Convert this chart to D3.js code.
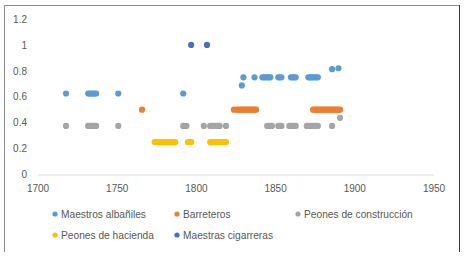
<!DOCTYPE html>
<html><head><meta charset="utf-8">
<script src="https://cdn.jsdelivr.net/npm/d3@7"></script>
<style>body{margin:0;background:#fff}svg{display:block}text{font-family:"Liberation Sans",Arial,sans-serif;fill:#595959}</style>
</head><body><svg id="c" width="466" height="260"></svg>
<script>
const seriesNames = ["Maestros albañiles","Barreteros","Peones de construcción","Peones de hacienda","Maestras cigarreras"];
const seriesColors = ["#5B9BD5","#ED7D31","#A5A5A5","#FFC000","#4472C4"];
const xTicks = [1700,1750,1800,1850,1900,1950];
const yTicks = [0,0.2,0.4,0.6,0.8,1,1.2];

const albanilesYears = [1718,1732,1733,1734,1735,1736,1737,1751,1792,1829,1830,1837,1842,1843,1844,1845,1846,1847,1852,1853,1854,1860,1861,1862,1863,1871,1872,1873,1874,1875,1876,1877,1886,1890];
const albanilesValues = [0.625,0.625,0.625,0.625,0.625,0.625,0.625,0.625,0.625,0.6875,0.75,0.75,0.75,0.75,0.75,0.75,0.75,0.75,0.75,0.75,0.75,0.75,0.75,0.75,0.75,0.75,0.75,0.75,0.75,0.75,0.75,0.75,0.8125,0.82];

const barreterosYears = [1766,1824,1826,1827,1828,1829,1830,1831,1832,1833,1834,1835,1836,1837,1838,1874,1875,1876,1877,1878,1879,1880,1881,1882,1883,1884,1885,1886,1887,1888,1889,1890,1891];
const barreterosValues = barreterosYears.map(() => 0.5);

const construccionYears = [1718,1732,1733,1734,1735,1736,1737,1751,1792,1794,1805,1809,1810,1811,1812,1813,1814,1815,1819,1845,1846,1847,1848,1852,1853,1854,1859,1860,1861,1862,1863,1870,1871,1872,1873,1874,1875,1876,1877,1886,1891];
const construccionValues = [0.375,0.375,0.375,0.375,0.375,0.375,0.375,0.375,0.375,0.375,0.375,0.375,0.375,0.375,0.375,0.375,0.375,0.375,0.375,0.375,0.375,0.375,0.375,0.375,0.375,0.375,0.375,0.375,0.375,0.375,0.375,0.375,0.375,0.375,0.375,0.375,0.375,0.375,0.375,0.375,0.4375];

const haciendaYears = [1774,1775,1776,1777,1778,1779,1780,1781,1782,1783,1784,1785,1786,1787,1795,1796,1797,1809,1810,1811,1812,1813,1814,1815,1816,1817,1818,1819];
const haciendaValues = haciendaYears.map(() => 0.25);

const cigarrerasYears = [1797,1807];
const cigarrerasValues = [1,1];

const seriesYears = [albanilesYears,barreterosYears,construccionYears,haciendaYears,cigarrerasYears];
const seriesValues = [albanilesValues,barreterosValues,construccionValues,haciendaValues,cigarrerasValues];

const svg = d3.select("#c");
svg.append("rect").attr("width",466).attr("height",260).attr("fill","#fff");
// chart border
svg.append("path").attr("d","M4.5,252 V5.5 H459.5").attr("fill","none").attr("stroke","#8c8c8c");
svg.append("line").attr("x1",459.5).attr("x2",459.5).attr("y1",5).attr("y2",252).attr("stroke","#3a3a3a");

const x = d3.scaleLinear().domain([1700,1950]).range([37.5,433.5]);
const y = d3.scaleLinear().domain([0,1.2]).range([174.5,19]);

// x axis
const xa = svg.append("g").attr("transform","translate(0,174.5)")
  .call(d3.axisBottom(x).tickValues(xTicks).tickSize(0).tickPadding(10).tickFormat(d3.format("d")));
xa.select(".domain").attr("stroke","#d9d9d9");
xa.selectAll("text").style("font-size","10px").attr("fill","#595959");

// y axis labels
const ya = svg.append("g").attr("transform","translate(27,0)")
  .call(d3.axisLeft(y).tickValues(yTicks).tickSize(0).tickPadding(0).tickFormat(d => d3.format("")(d)));
ya.select(".domain").remove();
ya.selectAll("text").style("font-size","10px").attr("fill","#595959");

// points
seriesYears.forEach((yrs,i) => {
  svg.append("g").selectAll("circle").data(yrs.map((yr,j)=>[yr,seriesValues[i][j]])).join("circle")
    .attr("cx",d=>x(d[0])).attr("cy",d=>y(d[1])).attr("r",3.1).attr("fill",seriesColors[i]);
});

// legend
const legendPos = [[55,214],[177,214],[298,214],[55,235],[177,235]];
seriesNames.forEach((n,i) => {
  const g = svg.append("g").attr("transform",`translate(${legendPos[i][0]},${legendPos[i][1]})`);
  g.append("circle").attr("r",2.6).attr("fill",seriesColors[i]);
  g.append("text").attr("x",6).attr("dy","0.35em").style("font-size","10.2px").text(n);
});
</script></body></html>
